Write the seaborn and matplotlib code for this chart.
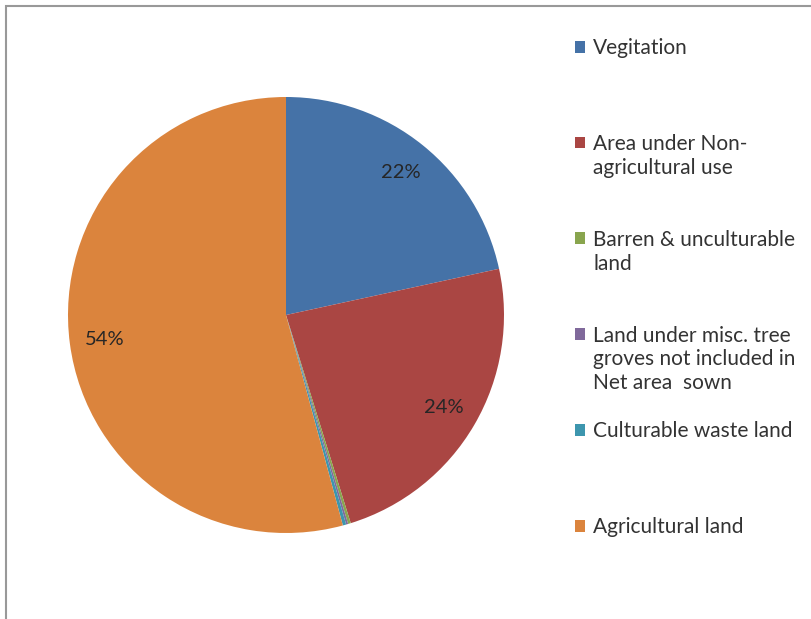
#!/usr/bin/env python3

# plot.py
#
# Land use pie chart with a side legend.
import matplotlib.pyplot as plt
from matplotlib.patches import Rectangle
import seaborn as sns


CATEGORIES = [
    'Vegitation',
    'Area under Non-\nagricultural use',
    'Barren & unculturable\nland',
    'Land under misc. tree\ngroves not included in\nNet area  sown',
    'Culturable waste land',
    'Agricultural land',
]
SHARES = [21.6, 23.6, 0.2, 0.15, 0.25, 54.2]
COLORS = ['#4572A7', '#AA4643', '#89A54E', '#80699B', '#3D96AE', '#DB843D']


def make_plot(output):
    sns.set_theme(style='white')
    plt.rcParams['font.family'] = ['Lato', 'DejaVu Sans']

    fig = plt.figure(figsize=(8.12, 6.19), dpi=100)
    ax = fig.add_axes([68 / 812, 86 / 619, 436 / 812, 436 / 619])

    # Draw the pie, clockwise from twelve o'clock
    wedges, texts, autotexts = ax.pie(
        SHARES, colors=COLORS, startangle=90, counterclock=False,
        autopct=lambda p: '{:.0f}%'.format(p) if p >= 1 else '',
        pctdistance=0.84, wedgeprops={'linewidth': 0},
        textprops={'fontsize': 14.5, 'color': '#262626'})
    ax.set_xlim(-1, 1)
    ax.set_ylim(-1, 1)
    ax.set_aspect('equal')

    # Legend: one row per line of text so the entries sit evenly spaced
    handles, labels = [], []
    for wedge, name in zip(wedges, CATEGORIES):
        lines = name.split('\n')
        for i in range(4):
            handles.append(wedge if i == 0 else Rectangle((0, 0), 1, 1, alpha=0))
            labels.append(lines[i] if i < len(lines) else '')
    fig.legend(handles, labels, loc='upper left',
               bbox_to_anchor=(575 / 812, 1 - 38 / 619),
               frameon=False, fontsize=15, labelcolor='#333333',
               handlelength=0.5, handleheight=0.5, handletextpad=0.38,
               labelspacing=0.19, borderaxespad=0, borderpad=0)

    # Chart frame (only top and left edges show in the picture)
    fig.patches.append(Rectangle((6 / 812, -0.1), 1.2, 1.1 - 6 / 619,
                                 transform=fig.transFigure, fill=False,
                                 edgecolor='#999999', linewidth=1.5))

    fig.savefig(output, dpi=100)
    plt.close(fig)


if __name__ == '__main__':
    make_plot('out.png')
